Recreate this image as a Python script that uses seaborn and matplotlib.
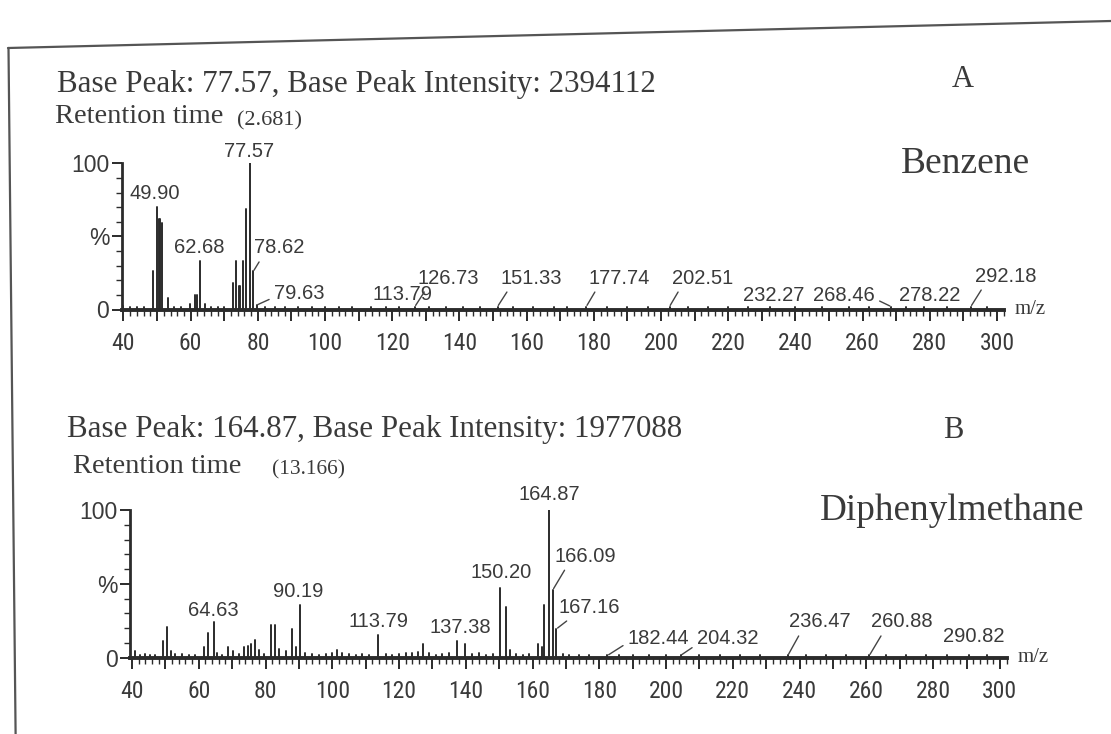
import matplotlib
matplotlib.use("Agg")
import matplotlib.pyplot as plt
from matplotlib import font_manager
from matplotlib.font_manager import FontProperties
from matplotlib.lines import Line2D
from matplotlib.ticker import MultipleLocator
import numpy as np
import pandas as pd
import seaborn as sns

# ---------------- data ----------------
x_ticks = [40, 60, 80, 100, 120, 140, 160, 180, 200, 220, 240, 260, 280, 300]
x_mid_ticks = [50, 70, 90, 110, 130, 150, 170, 190, 210, 230, 250, 270, 290]
y_ticks = [0, 50, 100]
y_tick_labels = ["0", "%", "100"]

# Panel A - Benzene
a_mz = [40.0, 42.0, 44.0, 46.0, 48.9, 49.90, 50.5, 50.8, 51.6, 53.3, 55.0, 57.0,
        59.8, 61.3, 61.8, 62.68, 64.3, 66.0, 68.0, 70.0, 72.6, 73.6, 74.5, 74.8,
        75.5, 76.5, 77.57, 78.62, 79.63, 82.0, 85.0, 88.0, 92.0, 96.0, 100.0,
        104.0, 108.0, 113.79, 118.0, 122.0, 126.73, 131.0, 136.0, 141.0, 146.0,
        151.33, 156.0, 162.0, 168.0, 172.0, 177.74, 184.0, 190.0, 196.0, 202.51,
        208.0, 214.0, 220.0, 226.0, 232.27, 240.0, 248.0, 256.0, 262.0, 268.46,
        273.0, 278.22, 285.0, 292.18, 297.0]
a_int = [2.5, 1.5, 1.5, 1.5, 26, 70, 62, 62, 59, 8, 1.5, 1.5,
         4, 10, 10, 33, 4, 1.5, 1.5, 1.5, 18, 33, 16, 16,
         33, 69, 100, 26, 3, 1.5, 1.5, 1.5, 1.5, 1.5, 1.5,
         1.5, 1.5, 1.5, 1.5, 1.5, 2, 1.5, 1.5, 1.5, 1.5,
         2, 1.5, 1.5, 1.5, 1.5, 2, 1.5, 1.5, 1.5, 2,
         1.5, 1.5, 1.5, 1.5, 2, 1.5, 1.5, 1.5, 1.5, 2,
         1.5, 2, 1.5, 2, 1.5]
a_labels = [49.90, 62.68, 77.57, 78.62, 79.63, 113.79, 126.73, 151.33, 177.74,
            202.51, 232.27, 268.46, 278.22, 292.18]

# Panel B - Diphenylmethane
b_mz = [40.8, 42.5, 44.0, 45.5, 47.0, 49.35, 50.6, 51.7, 53.0, 55.0, 57.0, 59.0,
        61.6, 62.9, 64.63, 65.6, 67.0, 68.9, 70.4, 72.0, 73.7, 74.8, 75.8, 76.8,
        78.0, 79.5, 81.5, 82.8, 84.0, 86.0, 88.0, 89.2, 90.19, 91.8, 94.0, 96.0,
        98.0, 100.0, 101.5, 103.0, 105.0, 107.0, 109.0, 111.0, 113.79, 116.0,
        118.0, 120.0, 122.0, 124.0, 125.7, 127.2, 129.0, 131.0, 133.0, 135.0,
        137.38, 139.8, 142.0, 144.0, 146.0, 148.0, 150.20, 151.9, 153.3, 155.0,
        157.0, 159.0, 161.7, 162.7, 163.4, 164.87, 166.09, 167.16, 169.0, 171.0,
        174.0, 177.0, 182.44, 186.0, 190.0, 195.0, 200.0, 204.32, 210.0, 216.0,
        222.0, 228.0, 236.47, 242.0, 248.0, 254.0, 260.88, 266.0, 272.0, 278.0,
        284.0, 290.82, 296.0]
b_int = [4.5, 2, 2.5, 2, 2, 11.5, 21, 4.5, 2.5, 2.5, 2, 2,
         7, 17, 24, 3, 2, 7, 4.5, 2.5, 7, 8, 9.5, 12,
         5, 2.5, 22, 22, 6, 4.5, 19.5, 7, 36, 3.5, 2.5, 2,
         2.5, 3, 5, 3, 2.5, 2, 2.5, 2, 15.5, 2.5,
         2, 2.5, 3, 3.5, 4, 9, 3, 2, 2.5, 3,
         11, 9.5, 2.5, 3, 2, 2.5, 47, 34, 5, 2.5,
         2, 2.5, 9.5, 7, 36, 100, 46, 19.5, 2.5, 2,
         1.5, 1.5, 1.5, 1.5, 1.5, 1.5, 1.5, 1.5, 1.5, 1.5,
         1.5, 1.5, 1.5, 1.5, 1.5, 1.5, 1.5, 1.5, 1.5, 1.5,
         1.5, 1.5, 1.5]
b_labels = [64.63, 90.19, 113.79, 137.38, 150.20, 164.87, 166.09, 167.16, 182.44,
            204.32, 236.47, 260.88, 290.82]

# ---------------- label layout (pixel offsets, alignment, leader) ----------------
a_layout = {
    49.90: (-2, 8, "center", None),
    62.68: (0, 8, "center", None),
    77.57: (-1, 6, "center", None),
    78.62: (1, 18, "left", (0.15, 0.0)),
    79.63: (17, 6, "left", (0.0, 0.3)),
    113.79: (1, 7, "left", None),
    126.73: (3, 23, "left", (0.15, 0.0)),
    151.33: (3, 23, "left", (0.15, 0.0)),
    177.74: (2, 23, "left", (0.15, 0.0)),
    202.51: (2, 23, "left", (0.15, 0.0)),
    232.27: (-27, 6, "left", None),
    268.46: (-16, 6, "right", (1.0, 0.3)),
    278.22: (6, 6, "center", None),
    292.18: (4, 25, "left", (0.15, 0.0)),
}
b_layout = {
    64.63: (-1, 6, "center", None),
    90.19: (-1, 8, "center", None),
    113.79: (0, 8, "center", None),
    137.38: (3, 8, "center", None),
    150.20: (1, 10, "center", None),
    164.87: (0, 10, "center", None),
    166.09: (2, 28, "left", (0.2, 0.0)),
    167.16: (2, 16, "left", (0.22, 0.0)),
    182.44: (20, 11, "left", (0.0, 0.3)),
    204.32: (16, 11, "left", (0.0, 0.2)),
    236.47: (1, 28, "left", (0.2, 0.0)),
    260.88: (2, 28, "left", (0.2, 0.0)),
    290.82: (4, 13, "center", None),
}

W, H = 1111, 734
INK = "#2b2b2b"
TXT = "#3a3a3a"

sns.set_theme(style="ticks")
plt.rcParams["font.family"] = ["Liberation Serif", "DejaVu Serif"]
SANS = "Liberation Sans"


def narrow_font(size):
    fl = font_manager.fontManager.ttflist
    for name in ["Liberation Sans Narrow", "Roboto Condensed", "Open Sans Condensed",
                 "Noto Sans Condensed", "DejaVu Sans Condensed"]:
        for f in fl:
            if f.name == name and f.style == "normal" and f.weight in (400, "normal", "regular"):
                return FontProperties(fname=f.fname, size=size)
    for f in fl:
        fn = f.fname.lower()
        if "condensed" in fn and "dejavusans" in fn.replace("-", "") and "bold" not in fn \
                and "oblique" not in fn and "mono" not in fn:
            return FontProperties(fname=f.fname, size=size)
    return FontProperties(family=SANS, size=size)


XFONT = narrow_font(17)

fig = plt.figure(figsize=(W / 100, H / 100), dpi=100, facecolor="white")


def px_axes(left, right, top, bottom):
    return fig.add_axes([left / W, 1 - bottom / H, (right - left) / W, (bottom - top) / H])


def stems(mz, inten):
    n = len(mz)
    return pd.DataFrame({
        "mz": np.repeat(np.asarray(mz, float), 2),
        "rel": np.column_stack([np.zeros(n), np.asarray(inten, float)]).ravel(),
        "peak": np.repeat(np.arange(n), 2),
    })


def setup(ax):
    ax.set_xlim(39.5, 302)
    ax.set_ylim(0, 100)
    ax.set_facecolor("none")
    for s in ["top", "right"]:
        ax.spines[s].set_visible(False)
    ax.spines["left"].set_linewidth(2.0)
    ax.spines["bottom"].set_linewidth(2.8)
    ax.spines["left"].set_color(INK)
    ax.spines["bottom"].set_color(INK)
    ticks = sorted(x_ticks + x_mid_ticks)
    ax.set_xticks(ticks)
    ax.set_xticklabels([str(t) if t in x_ticks else "" for t in ticks],
                       fontproperties=XFONT, color=TXT)
    ax.xaxis.set_minor_locator(MultipleLocator(2))
    ax.set_yticks(y_ticks)
    ax.set_yticklabels(y_tick_labels, fontfamily=SANS, fontsize=16.5, color=TXT)
    ax.yaxis.set_minor_locator(MultipleLocator(10))
    ax.tick_params(axis="x", which="major", length=8, width=1.4, pad=8, color=INK)
    ax.tick_params(axis="x", which="minor", length=4, width=1.0, color=INK)
    ax.tick_params(axis="y", which="major", length=7, width=1.4, pad=2, color=INK)
    ax.tick_params(axis="y", which="minor", length=4, width=1.0, color=INK)
    ax.set_xlabel("")
    ax.set_ylabel("")
    ax.text(1.012, 0.0, "m/z", transform=ax.transAxes, ha="left", va="center",
            fontsize=15, color=TXT, fontfamily="Liberation Serif")


def draw(ax, mz, inten, labels, layout):
    df = stems(mz, inten)
    sns.lineplot(data=df, x="mz", y="rel", units="peak", estimator=None, sort=False,
                 color=INK, lw=1.4, ax=ax, legend=False)
    lookup = dict(zip(mz, inten))
    for m in labels:
        dx, dy, ha, lead = layout[m]
        kw = {}
        if lead is not None:
            kw["arrowprops"] = dict(arrowstyle="-", color="#444444", lw=1.0,
                                    relpos=lead, shrinkA=1, shrinkB=1)
        ax.annotate(f"{m:.2f}", xy=(m, lookup[m]), xytext=(dx, dy),
                    textcoords="offset pixels", ha=ha, va="baseline",
                    fontsize=14.5, fontfamily=SANS, color=TXT,
                    annotation_clip=False, **kw)
    ax.set_xlabel("")
    ax.set_ylabel("")


axA = px_axes(121.8, 1003.8, 163.3, 309.5)
draw(axA, a_mz, a_int, a_labels, a_layout)
setup(axA)

axB = px_axes(130.3, 1006.6, 510.0, 657.7)
draw(axB, b_mz, b_int, b_labels, b_layout)
setup(axB)


def ftext(x, y, s, **kw):
    fig.text(x / W, 1 - y / H, s, va="baseline", color=TXT, **kw)


ftext(57, 92, "Base Peak: 77.57, Base Peak Intensity: 2394112", fontsize=22.3)
ftext(55, 123, "Retention time", fontsize=20.5)
ftext(237, 125, "(2.681)", fontsize=16)
ftext(963, 87, "A", fontsize=22, ha="center")
ftext(965, 173, "Benzene", fontsize=27, ha="center")

ftext(67, 437, "Base Peak: 164.87, Base Peak Intensity: 1977088", fontsize=22.3)
ftext(73, 473, "Retention time", fontsize=20.5)
ftext(272, 474, "(13.166)", fontsize=15.5)
ftext(953, 438, "B", fontsize=22, ha="center")
ftext(952, 520, "Diphenylmethane", fontsize=26.7, ha="center")

# scanned page frame
fig.add_artist(Line2D([8 / W, 1.0], [1 - 48 / H, 1 - 21 / H], color="#555555", lw=1.6))
fig.add_artist(Line2D([8.5 / W, 15.6 / W], [1 - 48 / H, 0.0], color="#555555", lw=1.6))

fig.savefig("out.png", dpi=100, facecolor="white")
